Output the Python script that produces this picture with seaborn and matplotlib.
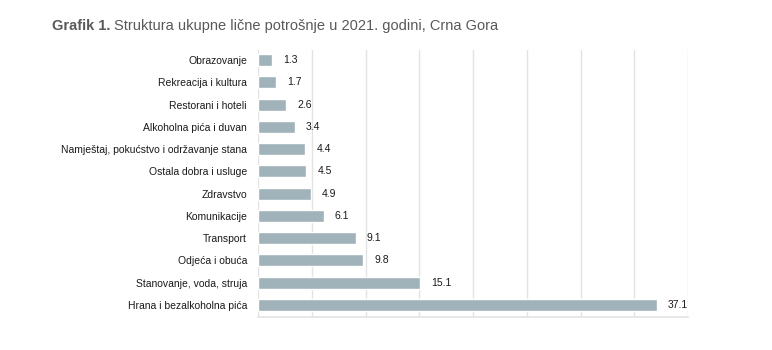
import matplotlib
matplotlib.use("Agg")
import matplotlib.pyplot as plt
import seaborn as sns
import pandas as pd

categories = [
    "Obrazovanje",
    "Rekreacija i kultura",
    "Restorani i hoteli",
    "Alkoholna pića i duvan",
    "Namještaj, pokućstvo i održavanje stana",
    "Ostala dobra i usluge",
    "Zdravstvo",
    "Komunikacije",
    "Transport",
    "Odjeća i obuća",
    "Stanovanje, voda, struja",
    "Hrana i bezalkoholna pića",
]
values = [1.3, 1.7, 2.6, 3.4, 4.4, 4.5, 4.9, 6.1, 9.1, 9.8, 15.1, 37.1]

df = pd.DataFrame({"kategorija": categories, "udio": values})

sns.set_theme(style="white")
plt.rcParams["font.family"] = ["Liberation Sans", "DejaVu Sans"]

fig = plt.figure(figsize=(7.72, 3.5), dpi=100)
ax = fig.add_axes([258 / 772, 1 - 317 / 350, (688 - 258) / 772, (317 - 50) / 350])

sns.barplot(data=df, y="kategorija", x="udio", orient="h", color="#A1B3BA",
            saturation=1, width=0.54, ax=ax)

ax.set_xlim(0, 40)
ax.set_ylim(11.55, -0.45)
ax.set_xticks(range(0, 41, 5))
ax.set_xticklabels([])
ax.tick_params(axis="x", length=0)
ax.tick_params(axis="y", length=0, pad=8, labelsize=7.5, labelcolor="#1a1a1a")
ax.grid(axis="x", color="#e3e3e3", linewidth=1.0)
ax.set_axisbelow(True)
ax.set_xlabel("")
ax.set_ylabel("")
for s in ["top", "right", "left"]:
    ax.spines[s].set_visible(False)
ax.spines["bottom"].set_color("#e3e3e3")
ax.spines["bottom"].set_linewidth(1.2)

for i, v in enumerate(values):
    ax.annotate(f"{v:.1f}", xy=(v, i), xytext=(8, 0), textcoords="offset points",
                va="center", ha="left", fontsize=7.5, color="#1a1a1a")

t1 = fig.text(52 / 772, 1 - 26 / 350, "Grafik 1.", fontsize=10.5, fontweight="bold",
              color="#595959", va="center", ha="left")
fig.canvas.draw()
bb = t1.get_window_extent(renderer=fig.canvas.get_renderer())
x2 = (bb.x1 + 4) / 772
fig.text(x2, 1 - 26 / 350, "Struktura ukupne lične potrošnje u 2021. godini, Crna Gora",
         fontsize=10.5, color="#595959", va="center", ha="left")

fig.savefig("out.png", dpi=100)
